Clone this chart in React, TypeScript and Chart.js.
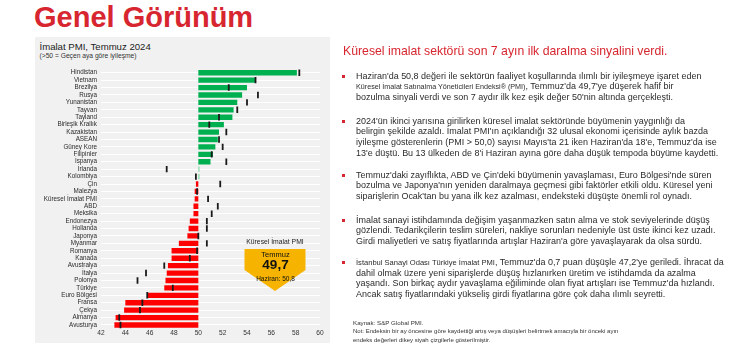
import React, { useEffect, useRef } from "react";
import { Chart, registerables } from "chart.js";

Chart.register(...registerables);

const categories = [
  "Hindistan", "Vietnam", "Brezilya", "Rusya", "Yunanistan", "Tayvan", "Tayland",
  "Birleşik Krallık", "Kazakistan", "ASEAN", "Güney Kore", "Filipinler", "İspanya",
  "İrlanda", "Kolombiya", "Çin", "Malezya", "Küresel İmalat PMI", "ABD", "Meksika",
  "Endonezya", "Hollanda", "Japonya", "Myanmar", "Romanya", "Kanada", "Avustralya",
  "İtalya", "Polonya", "Türkiye", "Euro Bölgesi", "Fransa", "Çekya", "Almanya", "Avusturya",
];

// Temmuz 2024 (bars)
const julyValues = [
  58.1, 54.7, 54.0, 53.6, 53.2, 52.9, 52.8, 52.1, 51.7, 51.6, 51.4, 51.2, 51.0,
  50.1, 50.1, 49.8, 49.7, 49.7, 49.6, 49.6, 49.3, 49.2, 49.1, 48.4, 47.8, 47.8, 47.5,
  47.4, 47.3, 47.2, 45.8, 44.0, 43.9, 43.2, 43.1,
];

// Haziran 2024 (black vertical markers)
const juneValues = [
  58.3, 54.7, 52.5, 54.9, 54.0, 53.2, 51.7, 50.9, 52.3, 51.7, 52.0, 51.1, 52.3,
  47.4, 49.8, 51.8, 49.9, 50.8, 51.6, 51.1, 50.7, 50.7, 50.0, 50.7, 49.9, 49.3, 47.2,
  45.7, 45.0, 47.9, 45.8, 45.4, 45.2, 43.5, 43.6,
];

const xMin = 42;
const xMax = 60;
const xStep = 2;
const baseline = 50;

const SANS = "'Liberation Sans', Arial, sans-serif";
const RED = "#d7262f";
const TEXT = "#2b2b2b";

function barColor(v: number) {
  if (v >= 50.5) return "#00b050";
  if (v >= 50) return "#86d9a6";
  return "#ff0000";
}

type Seg = { t: string; small?: number };
type Para = { y: number; lines: Seg[][] };

const paragraphs: Para[] = [
  {
    y: 76,
    lines: [
      [{ t: "Haziran'da 50,8 değeri ile sektörün faaliyet koşullarında ılımlı bir iyileşmeye işaret eden" }],
      [
        { t: "Küresel İmalat Satınalma Yöneticileri Endeksi® (PMI)", small: 7.6 },
        { t: ", Temmuz'da 49,7'ye düşerek hafif bir" },
      ],
      [{ t: "bozulma sinyali verdi ve son 7 aydır ilk kez eşik değer 50'nin altında gerçekleşti." }],
    ],
  },
  {
    y: 121,
    lines: [
      [{ t: "2024'ün ikinci yarısına girilirken küresel imalat sektöründe büyümenin yaygınlığı da" }],
      [{ t: "belirgin şekilde azaldı. İmalat PMI'ın açıklandığı 32 ulusal ekonomi içerisinde aylık bazda" }],
      [{ t: "iyileşme gösterenlerin (PMI > 50,0) sayısı Mayıs'ta 21 iken Haziran'da 18'e, Temmuz'da ise" }],
      [{ t: "13'e düştü. Bu 13 ülkeden de 8'i Haziran ayına göre daha düşük tempoda büyüme kaydetti." }],
    ],
  },
  {
    y: 175,
    lines: [
      [{ t: "Temmuz'daki zayıflıkta, ABD ve Çin'deki büyümenin yavaşlaması, Euro Bölgesi'nde süren" }],
      [{ t: "bozulma ve Japonya'nın yeniden daralmaya geçmesi gibi faktörler etkili oldu. Küresel yeni" }],
      [{ t: "siparişlerin Ocak'tan bu yana ilk kez azalması, endeksteki düşüşte önemli rol oynadı." }],
    ],
  },
  {
    y: 220,
    lines: [
      [{ t: "İmalat sanayi istihdamında değişim yaşanmazken satın alma ve stok seviyelerinde düşüş" }],
      [{ t: "gözlendi. Tedarikçilerin teslim süreleri, nakliye sorunları nedeniyle üst üste ikinci kez uzadı." }],
      [{ t: "Girdi maliyetleri ve satış fiyatlarında artışlar Haziran'a göre yavaşlayarak da olsa sürdü." }],
    ],
  },
  {
    y: 262.5,
    lines: [
      [
        { t: "İstanbul Sanayi Odası Türkiye İmalat PMI", small: 8 },
        { t: ", Temmuz'da 0,7 puan düşüşle 47,2'ye geriledi. İhracat da" },
      ],
      [{ t: "dahil olmak üzere yeni siparişlerde düşüş hızlanırken üretim ve istihdamda da  azalma" }],
      [{ t: "yaşandı. Son birkaç aydır yavaşlama eğiliminde olan fiyat artışları ise Temmuz'da hızlandı." }],
      [{ t: "Ancak satış fiyatlarındaki yükseliş girdi fiyatlarına göre çok daha ılımlı seyretti." }],
    ],
  },
];

const LH = 10.6;
const BODY = 9.5;
const BODY_SCALE = 0.945;

export default function App() {
  const ref = useRef<HTMLCanvasElement>(null);

  useEffect(() => {
    const canvas = ref.current;
    if (!canvas) return;
    const chart = new Chart(canvas, {
      type: "bar",
      data: {
        labels: categories,
        datasets: [
          {
            type: "line",
            label: "Haziran",
            data: juneValues,
            indexAxis: "y",
            showLine: false,
            pointStyle: "line",
            rotation: 90,
            pointRadius: 3.2,
            pointBorderWidth: 1.8,
            pointBorderColor: "#1a1a1a",
            pointBackgroundColor: "#1a1a1a",
            order: 0,
          } as any,
          {
            type: "bar",
            label: "Temmuz",
            data: julyValues.map((v) => [baseline, v]),
            backgroundColor: julyValues.map(barColor),
            barPercentage: 0.72,
            categoryPercentage: 1,
            borderWidth: 0,
            order: 1,
          } as any,
        ],
      },
      options: {
        indexAxis: "y",
        responsive: false,
        animation: false,
        devicePixelRatio: 1,
        layout: { padding: { top: 32, right: 10, bottom: 0, left: 0 } },
        plugins: { legend: { display: false }, tooltip: { enabled: false } },
        scales: {
          x: {
            min: xMin,
            max: xMax,
            ticks: {
              stepSize: xStep,
              padding: 1,
              font: { size: 6.6, family: SANS },
              color: "#333",
              maxRotation: 0,
            },
            grid: { display: false, drawTicks: false },
            border: { display: false },
            afterFit: (s: any) => {
              s.height = 14.3;
            },
          },
          y: {
            ticks: {
              padding: 4,
              font: { size: 6.3, family: SANS },
              color: TEXT,
              autoSkip: false,
            },
            grid: {
              color: "rgba(255,255,255,0.95)",
              lineWidth: 1,
              offset: false,
              drawTicks: false,
            },
            border: { display: false },
            afterFit: (s: any) => {
              s.width = 66;
            },
          },
        },
      } as any,
    });
    return () => chart.destroy();
  }, []);

  const abs = (extra: React.CSSProperties): React.CSSProperties => ({
    position: "absolute",
    whiteSpace: "nowrap",
    margin: 0,
    ...extra,
  });

  return (
    <div
      style={{
        position: "fixed",
        left: 0,
        top: 0,
        width: 740,
        height: 350,
        background: "#ffffff",
        overflow: "hidden",
        fontFamily: SANS,
      }}
    >
      {/* Title */}
      <div
        style={abs({
          left: 34,
          top: 1,
          fontSize: 29,
          lineHeight: "32px",
          fontWeight: 700,
          color: RED,
          fontFamily: SANS,
        })}
      >
        Genel Görünüm
      </div>

      {/* Chart panel */}
      <div style={abs({ left: 35, top: 37, width: 295, height: 306, background: "#f1f1f1" })} />
      <div style={abs({ left: 39.5, top: 40.5, fontSize: 9.6, lineHeight: "11px", color: "#222", fontFamily: SANS })}>
        İmalat PMI, Temmuz 2024
      </div>
      <div style={abs({ left: 39.5, top: 51.5, fontSize: 6.7, lineHeight: "7px", color: "#333", fontFamily: SANS })}>
        {"(>50 = Geçen aya göre iyileşme)"}
      </div>
      <canvas
        ref={ref}
        width={295}
        height={306}
        style={{ position: "absolute", left: 35, top: 37, width: 295, height: 306 }}
      />

      {/* Küresel İmalat PMI badge */}
      <svg
        width={740}
        height={350}
        style={{ position: "absolute", left: 0, top: 0, pointerEvents: "none" }}
      >
        <polygon points="244.5,249 305.5,249 305.5,270 275,291 244.5,270" fill="#f6b300" />
      </svg>
      <div
        style={abs({
          left: 240,
          top: 238,
          width: 70,
          textAlign: "center",
          fontSize: 6.8,
          lineHeight: "8px",
          color: "#222",
        })}
      >
        Küresel İmalat PMI
      </div>
      <div style={abs({ left: 245, top: 251, width: 61, textAlign: "center", fontSize: 7.5, lineHeight: "8px", color: "#111" })}>
        Temmuz
      </div>
      <div
        style={abs({
          left: 245,
          top: 258,
          width: 61,
          textAlign: "center",
          fontSize: 13.5,
          fontWeight: 700,
          lineHeight: "14px",
          color: "#111",
        })}
      >
        49,7
      </div>
      <div style={abs({ left: 245, top: 274.5, width: 61, textAlign: "center", fontSize: 6.5, lineHeight: "7px", color: "#111" })}>
        Haziran: 50,8
      </div>

      {/* Right side text */}
      <div
        style={abs({
          left: 343,
          top: 43,
          fontSize: 12.8,
          lineHeight: "15px",
          color: RED,
          fontFamily: SANS,
          transform: "scaleX(0.958)",
          transformOrigin: "left center",
        })}
      >
        Küresel imalat sektörü son 7 ayın ilk daralma sinyalini verdi.
      </div>

      {paragraphs.map((p, pi) => (
        <React.Fragment key={pi}>
          <div style={abs({ left: 342, top: p.y - 1.5, width: 3, height: 3, background: RED })} />
          {p.lines.map((segs, li) => (
            <div
              key={li}
              style={abs({
                left: 356,
                top: p.y + li * LH - LH / 2,
                height: LH,
                fontSize: BODY,
                lineHeight: `${LH}px`,
                color: TEXT,
                fontFamily: SANS,
                transform: `scaleX(${BODY_SCALE})`,
                transformOrigin: "left center",
              })}
            >
              {segs.map((s, si) => (
                <span key={si} style={s.small ? { fontSize: s.small } : undefined}>
                  {s.t}
                </span>
              ))}
            </div>
          ))}
        </React.Fragment>
      ))}

      {/* Footnotes */}
      <div style={abs({ left: 353, top: 318.5, fontSize: 6.2, lineHeight: "7px", color: "#333", fontFamily: SANS })}>
        Kaynak: S&amp;P Global PMI.
      </div>
      <div style={abs({ left: 353, top: 328, fontSize: 6, lineHeight: "7px", color: "#333", fontFamily: SANS })}>
        Not: Endeksin bir ay öncesine göre kaydettiği artış veya düşüşleri belirtmek amacıyla bir önceki ayın
      </div>
      <div style={abs({ left: 353, top: 336.5, fontSize: 6, lineHeight: "7px", color: "#333", fontFamily: SANS })}>
        endeks değerleri dikey siyah çizgilerle gösterilmiştir.
      </div>
    </div>
  );
}
